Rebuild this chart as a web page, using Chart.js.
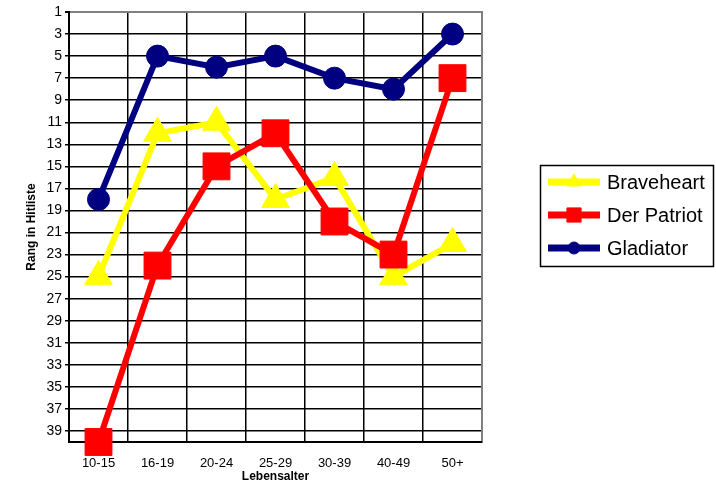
<!DOCTYPE html>
<html>
<head>
<meta charset="utf-8">
<script src="https://cdn.jsdelivr.net/npm/chart.js@4/dist/chart.umd.min.js"></script>
<style>
  html, body { margin: 0; padding: 0; background: #ffffff; }
  #wrap { position: relative; width: 716px; height: 484px; }
</style>
</head>
<body>
<div id="wrap"><canvas id="c" width="716" height="484"></canvas></div>
<script>
const categories = ['10-15', '16-19', '20-24', '25-29', '30-39', '40-49', '50+'];
const braveheart = [25, 12, 11, 18, 16, 25, 22];
const derPatriot = [40, 24, 15, 12, 20, 23, 7];
const gladiator  = [18, 5, 6, 5, 7, 8, 3];
const yTicks = [1, 3, 5, 7, 9, 11, 13, 15, 17, 19, 21, 23, 25, 27, 29, 31, 33, 35, 37, 39];
const seriesNames = ['Braveheart', 'Der Patriot', 'Gladiator'];
const seriesColors = ['#FFFF00', '#FF0000', '#000080'];

const FONT = "'Liberation Sans', Arial, sans-serif";

const plotFrame = {
  id: 'plotFrame',
  beforeDatasetsDraw(chart) {
    const a = chart.chartArea, ctx = chart.ctx;
    ctx.save();
    ctx.strokeStyle = '#808080';
    ctx.lineWidth = 2;
    ctx.beginPath();
    ctx.moveTo(a.left, a.top);
    ctx.lineTo(a.right, a.top);
    ctx.lineTo(a.right, a.bottom);
    ctx.stroke();
    ctx.strokeStyle = '#000000';
    ctx.beginPath();
    ctx.moveTo(a.left, a.top - 1);
    ctx.lineTo(a.left, a.bottom);
    ctx.lineTo(a.right, a.bottom);
    ctx.stroke();
    ctx.restore();
  }
};

const customLegend = {
  id: 'customLegend',
  afterDraw(chart) {
    const ctx = chart.ctx;
    ctx.save();
    ctx.strokeStyle = '#000000';
    ctx.lineWidth = 1.5;
    ctx.strokeRect(540.5, 165.5, 173, 101);
    const ys = [182, 215, 248];
    const styles = ['triangle', 'rect', 'circle'];
    for (let i = 0; i < 3; i++) {
      const y = ys[i];
      ctx.strokeStyle = seriesColors[i];
      ctx.fillStyle = seriesColors[i];
      ctx.lineWidth = 7;
      ctx.beginPath();
      ctx.moveTo(548, y);
      ctx.lineTo(600, y);
      ctx.stroke();
      ctx.lineWidth = 1;
      const r = styles[i] === 'rect' ? 10 : (styles[i] === 'triangle' ? 8 : 6);
      ctx.beginPath();
      Chart.helpers.drawPoint(ctx, {pointStyle: styles[i], rotation: 0, borderWidth: 1, radius: r}, 574, y);
      ctx.fillStyle = '#000000';
      ctx.font = "20px " + FONT;
      ctx.textBaseline = 'middle';
      ctx.textAlign = 'left';
      ctx.fillText(seriesNames[i], 607, y + 1);
    }
    ctx.restore();
  }
};

function ds(label, data, color, style, radius, order) {
  return {
    label, data,
    borderColor: color,
    backgroundColor: color,
    borderWidth: 6,
    pointStyle: style,
    pointRadius: radius,
    pointHoverRadius: radius,
    pointBackgroundColor: color,
    pointBorderColor: color,
    pointBorderWidth: 1,
    tension: 0,
    clip: false,
    order
  };
}

new Chart(document.getElementById('c'), {
  type: 'line',
  data: {
    labels: categories,
    datasets: [
      ds(seriesNames[0], braveheart, seriesColors[0], 'triangle', 16, 2),
      ds(seriesNames[1], derPatriot, seriesColors[1], 'rect', 19, 1),
      ds(seriesNames[2], gladiator, seriesColors[2], 'circle', 11, 0)
    ]
  },
  options: {
    responsive: false,
    animation: false,
    devicePixelRatio: 1,
    layout: { autoPadding: false, padding: { top: 12, right: 234, bottom: 0, left: 0 } },
    plugins: {
      legend: { display: false },
      tooltip: { enabled: false }
    },
    scales: {
      x: {
        type: 'category',
        offset: true,
        grid: { offset: true, color: '#000000', lineWidth: 1.5, drawTicks: false },
        border: { display: true, color: '#000000', width: 2 },
        ticks: { color: '#000000', font: { family: FONT, size: 13 }, padding: 14, maxRotation: 0, autoSkip: false },
        title: { display: true, text: 'Lebensalter', color: '#000000', font: { family: FONT, size: 12, weight: 'bold' }, padding: { top: 0, bottom: 0 } },
        afterFit(scale) { scale.height = 42; scale.paddingLeft = 0; scale.paddingRight = 0; }
      },
      y: {
        type: 'linear',
        reverse: true,
        min: 1,
        max: 40,
        afterBuildTicks(scale) { scale.ticks = yTicks.map(v => ({ value: v })); },
        grid: {
          color: (c) => (c.tick && c.tick.value === 1 ? '#808080' : '#000000'),
          lineWidth: (c) => (c.tick && c.tick.value === 1 ? 2 : 1.5),
          tickColor: '#000000',
          tickLength: 4,
          drawTicks: true
        },
        border: { display: true, color: '#000000', width: 2 },
        ticks: { color: '#000000', font: { family: FONT, size: 14 }, padding: 3, autoSkip: false },
        title: { display: true, text: 'Rang in Hitliste', color: '#000000', font: { family: FONT, size: 12, weight: 'bold' }, padding: { top: 24, bottom: 0 } },
        afterFit(scale) { scale.width = 69; scale.paddingTop = 0; scale.paddingBottom = 0; }
      }
    }
  },
  plugins: [plotFrame, customLegend]
});
</script>
</body>
</html>
